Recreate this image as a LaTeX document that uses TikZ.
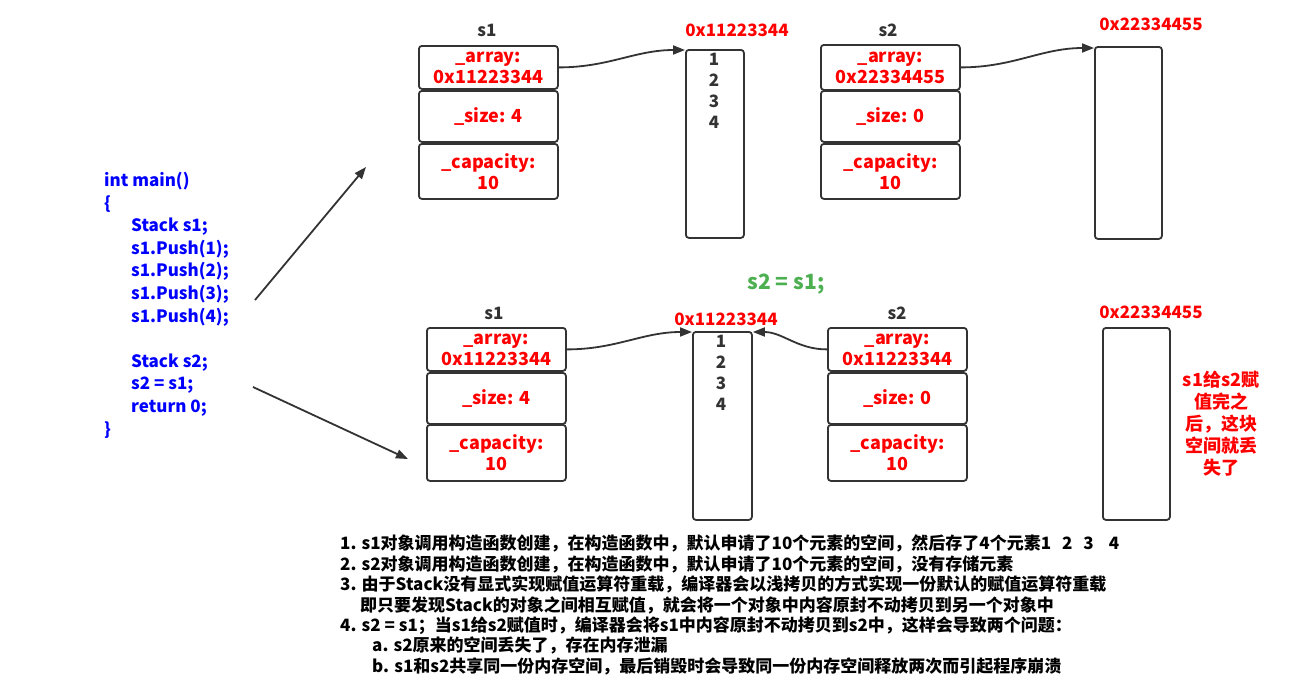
\documentclass[tikz,border=0pt]{standalone}
\usepackage{fontspec}
\setmainfont{Noto Sans CJK SC}
\usetikzlibrary{arrows.meta}
\definecolor{lred}{RGB}{255,0,0}
\definecolor{lblue}{RGB}{0,0,255}
\definecolor{lgreen}{RGB}{76,175,80}
\definecolor{edge}{RGB}{51,51,51}
\begin{document}
\begin{tikzpicture}[x=1pt,y=-1pt,
 field/.style={draw=edge, line width=1.8pt, rounded corners=3pt, minimum width=139pt, inner sep=0pt, anchor=north west, align=center, text=lred, font=\fontsize{18}{21}\selectfont\bfseries},
 mem/.style={draw=edge, line width=1.8pt, rounded corners=3pt, inner sep=0pt, anchor=north west},
 objname/.style={text=edge, font=\fontsize{17}{20}\selectfont\bfseries},
 addr/.style={text=lred, font=\fontsize{17}{20}\selectfont\bfseries},
 vals/.style={text=edge, align=center, inner sep=0pt, font=\fontsize{17}{21}\selectfont\bfseries},
 link/.style={draw=edge, line width=1.8pt, -{Triangle[length=12pt,width=9pt]}},
]
\useasboundingbox (0,0) rectangle (1292,691);

% code
\node[anchor=north west, align=left, inner sep=0pt, text=lblue, font=\fontsize{17}{22.6}\selectfont\bfseries] (code) at (104,172)
{int main()\\
\{\\
\hspace*{27pt}Stack s1;\\
\hspace*{27pt}s1.Push(1);\\
\hspace*{27pt}s1.Push(2);\\
\hspace*{27pt}s1.Push(3);\\
\hspace*{27pt}s1.Push(4);\\[22.6pt]
\hspace*{27pt}Stack s2;\\
\hspace*{27pt}s2 = s1;\\
\hspace*{27pt}return 0;\\
\}};
\coordinate (c1) at (255,300);
\coordinate (t1) at (366,167);
\coordinate (c2) at (253,387);
\coordinate (t2) at (408,459);
\draw[link] (c1) -- (t1);
\draw[link] (c2) -- (t2);

% top s1
\node[objname] (s1t) at (487,30) {s1};
\node[field, minimum height=43pt] (a1) at (418,45) {\_array:\\0x11223344};
\node[field, minimum height=51pt] (z1) at (418,90) {\_size: 4};
\node[field, minimum height=55pt] (k1) at (418,143) {\_capacity:\\10};
\node[addr] (ad1) at (737,30) {0x11223344};
\node[mem, minimum width=58pt, minimum height=188pt] (m1) at (685,49) {};
\node[vals] (v1) at (714,90.5) {1\\2\\3\\4};
\draw[link] (a1.east) to[out=0,in=180] ([yshift=-1pt]m1.north west);

% top s2
\node[objname] (s2t) at (888,30) {s2};
\node[field, minimum height=45pt] (a2) at (820,44) {\_array:\\0x22334455};
\node[field, minimum height=51pt] (z2) at (820,90) {\_size: 0};
\node[field, minimum height=55pt] (k2) at (820,143) {\_capacity:\\10};
\node[addr] (ad2) at (1151,24) {0x22334455};
\node[mem, minimum width=67pt, minimum height=192pt] (m2) at (1094,46) {};
\draw[link] (a2.east) to[out=0,in=180] ([yshift=-2pt]m2.north west);

% middle
\node[text=lgreen, font=\fontsize{21}{24}\selectfont\bfseries] (eq) at (786,284) {s2 = s1;};

% bottom s1
\node[objname] (s1b) at (494,313) {s1};
\node[field, minimum height=43pt] (a3) at (426,327) {\_array:\\0x11223344};
\node[field, minimum height=51pt] (z3) at (426,372) {\_size: 4};
\node[field, minimum height=56pt] (k3) at (426,424) {\_capacity:\\10};
\node[addr] (ad3) at (726,319) {0x11223344};
\node[mem, minimum width=59pt, minimum height=188pt] (m3) at (692,331) {};
\node[vals] (v3) at (721,372.5) {1\\2\\3\\4};
\draw[link] (a3.east) to[out=0,in=180] ([yshift=-1pt]m3.north west);

% bottom s2
\node[objname] (s2b) at (897,313) {s2};
\node[field, minimum height=43pt] (a4) at (827,327) {\_array:\\0x11223344};
\node[field, minimum height=51pt] (z4) at (827,372) {\_size: 0};
\node[field, minimum height=56pt] (k4) at (827,424) {\_capacity:\\10};
\draw[link] (a4.west) to[out=180,in=0] ([yshift=-1pt]m3.north east);
\node[addr] (ad4) at (1151,312) {0x22334455};
\node[mem, minimum width=67pt, minimum height=192pt] (m4) at (1102,327) {};
\node[text=lred, align=center, font=\fontsize{18}{22}\selectfont\bfseries] (lost) at (1221,424) {s1给s2赋\\值完之\\后，这块\\空间就丢\\失了};

% notes
\node[anchor=north west, align=left, inner sep=0pt, font=\fontsize{17}{20.4}\selectfont\bfseries] (notes) at (340,535)
{1. s1对象调用构造函数创建，在构造函数中，默认申请了10个元素的空间，然后存了4个元素1\hspace{11pt}2\hspace{11pt}3\hspace{15pt}4\\
2. s2对象调用构造函数创建，在构造函数中，默认申请了10个元素的空间，没有存储元素\\
3. 由于Stack没有显式实现赋值运算符重载，编译器会以浅拷贝的方式实现一份默认的赋值运算符重载\\
\hspace*{20pt}即只要发现Stack的对象之间相互赋值，就会将一个对象中内容原封不动拷贝到另一个对象中\\
4. s2 = s1；当s1给s2赋值时，编译器会将s1中内容原封不动拷贝到s2中，这样会导致两个问题：\\
\hspace*{32pt}a. s2原来的空间丢失了，存在内存泄漏\\
\hspace*{32pt}b. s1和s2共享同一份内存空间，最后销毁时会导致同一份内存空间释放两次而引起程序崩溃};
\end{tikzpicture}
\end{document}
